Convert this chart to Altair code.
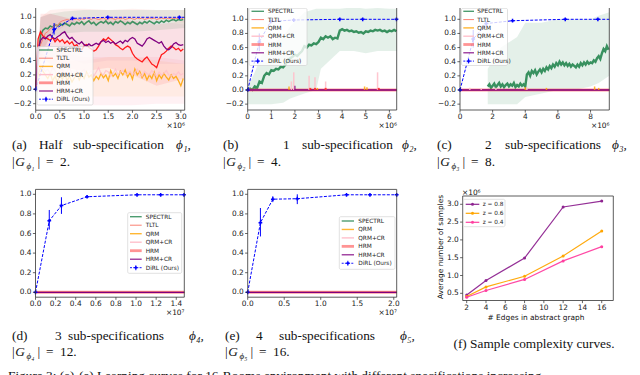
import altair as alt
import pandas as pd

W, H = 624, 367
def px(v): return v - 8
def py(v): return v - 8

FONT = "DejaVu Sans"
SERIF = "Liberation Serif"
TFS = 7.4
LFS = 5.8
CFS = 13.3

C_SPEC = "#2e8b57"; C_TLTL = "#fa8072"; C_QRM = "#ffa500"; C_QRMCR = "#ffc0cb"
C_HRM = "#ff1a1a"; C_HRMCR = "#800080"; C_DIRL = "#0000ff"

# ---------------- data ----------------
# (a) sampled every 0.05 (x1e6)
A_STEP = 0.05
A_SPECTRL = [0, 0.45, 0.75, 0.82, 0.85, 0.84, 0.88, 0.86, 0.9, 0.88,
             0.91, 0.89, 0.92, 0.9, 0.88, 0.92, 0.9, 0.93, 0.91, 0.94,
             0.9, 0.93, 0.95, 0.91, 0.93, 0.89, 0.92, 0.94, 0.92, 0.95,
             0.91, 0.93, 0.9, 0.94, 0.92, 0.95, 0.93, 0.9, 0.93, 0.91,
             0.94, 0.92, 0.9, 0.93, 0.91, 0.94, 0.92, 0.95, 0.93, 0.91,
             0.94, 0.92, 0.95, 0.93, 0.96, 0.94, 0.96, 0.97, 0.95, 0.97,
             0.96, 0.97]
A_TLTL = [0, 0.45, 0.62, 0.7, 0.78, 0.8, 0.84, 0.86, 0.9, 0.88,
          0.93, 0.95, 0.96, 0.97, 0.96, 0.98, 0.97, 0.98, 0.96, 0.98,
          0.97, 0.99, 0.98, 0.97, 0.99, 0.98, 0.97, 0.98, 0.99, 0.97,
          0.98, 0.99, 0.98, 0.97, 0.99, 0.98, 0.99, 0.97, 0.98, 0.99,
          0.98, 0.97, 0.99, 0.98, 0.99, 0.97, 0.98, 0.99, 0.98, 0.99,
          0.97, 0.98, 0.99, 0.98, 0.99, 0.98, 0.99, 0.98, 0.99, 0.98,
          0.99, 0.98]
A_QRM = [0, 0.2, 0.3, 0.25, 0.2, 0.15, 0.22, 0.12, 0.18, 0.1,
         0.2, 0.14, 0.22, 0.12, 0.18, 0.1, 0.16, 0.22, 0.13, 0.2,
         0.15, 0.24, 0.17, 0.2, 0.12, 0.18, 0.14, 0.22, 0.16, 0.2,
         0.12, 0.26, 0.18, 0.22, 0.15, 0.25, 0.2, 0.27, 0.17, 0.23,
         0.14, 0.28, 0.2, 0.25, 0.16, 0.22, 0.13, 0.2, 0.15, 0.24,
         0.12, 0.2, 0.15, 0.22, 0.17, 0.13, 0.2, 0.15, 0.18, 0.12,
         0.05, 0.15]
A_QRMCR = [0, 0.3, 0.35, 0.3, 0.25, 0.28, 0.22, 0.3, 0.26, 0.2,
           0.24, 0.28, 0.2, 0.25, 0.3, 0.22, 0.18, 0.26, 0.2, 0.24,
           0.28, 0.2, 0.22, 0.26, 0.18, 0.24, 0.3, 0.22, 0.2, 0.26,
           0.24, 0.18, 0.22, 0.28, 0.2, 0.24, 0.26, 0.2, 0.22, 0.25,
           0.2, 0.24, 0.28, 0.22, 0.18, 0.25, 0.22, 0.2, 0.26, 0.22,
           0.18, 0.24, 0.2, 0.22, 0.26, 0.2, 0.18, 0.22, 0.2, 0.24,
           0.2, 0.22]
A_HRM = [0, 0.7, 0.8, 0.74, 0.72, 0.7, 0.68, 0.72, 0.66, 0.7,
         0.66, 0.69, 0.64, 0.67, 0.63, 0.66, 0.6, 0.62, 0.56, 0.55,
         0.6, 0.62, 0.58, 0.56, 0.53, 0.55, 0.6, 0.66, 0.7, 0.68,
         0.72, 0.69, 0.66, 0.62, 0.6, 0.57, 0.55, 0.58, 0.6, 0.58,
         0.5, 0.45, 0.42, 0.4, 0.38, 0.42, 0.45, 0.4, 0.35, 0.33,
         0.3, 0.4, 0.48, 0.5, 0.53, 0.57, 0.6, 0.58, 0.55, 0.57,
         0.53, 0.56]
A_HRMCR = [0, 0.55, 0.68, 0.72, 0.7, 0.74, 0.76, 0.72, 0.7, 0.73,
           0.75, 0.78, 0.8, 0.74, 0.7, 0.72, 0.68, 0.65, 0.63, 0.66,
           0.62, 0.6, 0.63, 0.6, 0.62, 0.64, 0.62, 0.66, 0.68, 0.65,
           0.67, 0.64, 0.66, 0.63, 0.65, 0.67, 0.64, 0.68, 0.66, 0.7,
           0.72, 0.7, 0.64, 0.62, 0.6, 0.64, 0.7, 0.72, 0.7, 0.68,
           0.66, 0.64, 0.66, 0.6, 0.56, 0.55, 0.58, 0.63, 0.65, 0.62,
           0.61, 0.62]
A_BAND_X = [0, 0.1, 0.3, 0.6, 1.0, 1.5, 2.0, 2.5, 3.08]
A_SPEC_LO = [0, 0.5, 0.72, 0.78, 0.8, 0.8, 0.8, 0.82, 0.85]
A_SPEC_HI = [0, 1.0, 1.05, 1.08, 1.1, 1.1, 1.1, 1.1, 1.1]
A_TLTL_LO = [0, 0.4, 0.75, 0.88, 0.92, 0.92, 0.93, 0.93, 0.93]
A_TLTL_HI = [0, 1.0, 1.1, 1.12, 1.12, 1.1, 1.12, 1.1, 1.1]
A_QRM_LO = [0, -0.05, -0.05, -0.1, -0.1, -0.1, -0.1, -0.1, -0.1]
A_QRM_HI = [0, 0.5, 0.45, 0.4, 0.4, 0.45, 0.45, 0.4, 0.35]
A_QRMCR_LO = [0, -0.1, -0.2, -0.2, -0.22, -0.22, -0.22, -0.2, -0.2]
A_QRMCR_HI = [0, 0.8, 0.6, 0.5, 0.45, 0.45, 0.45, 0.45, 0.4]
A_HRM_LO = [0, 0.45, 0.35, 0.3, 0.25, 0.3, 0.2, 0.05, 0.15]
A_HRM_HI = [0, 1.05, 1.05, 1.0, 0.95, 1.0, 0.95, 0.9, 0.95]
A_HRMCR_LO = [0, 0.4, 0.45, 0.45, 0.35, 0.4, 0.4, 0.35, 0.35]
A_HRMCR_HI = [0, 1.0, 1.05, 1.0, 0.9, 0.95, 0.95, 0.95, 0.9]
A_DIRL_X = [0, 0.38, 0.76, 1.49, 2.97]
A_DIRL_Y = [0, 0.83, 0.985, 1.0, 1.0]
A_DIRL_LO = [0, 0.76, 0.975, 0.995, 0.995]
A_DIRL_HI = [0, 0.92, 0.995, 1.005, 1.005]
A_DIRL_END = [3.08, 1.0]

# (b) sampled every 0.1 (x1e6)
B_STEP = 0.1
B_SPECTRL = [0.0, 0.02, 0.0, 0.05, 0.03, 0.12, 0.1, 0.2, 0.24, 0.22,
             0.28, 0.27, 0.3, 0.29, 0.33, 0.32, 0.36, 0.42, 0.45, 0.47,
             0.5, 0.48, 0.52, 0.55, 0.62, 0.6, 0.64, 0.63, 0.66, 0.65,
             0.68, 0.74, 0.72, 0.76, 0.74, 0.76, 0.72, 0.74, 0.73, 0.84,
             0.86, 0.84, 0.85, 0.83, 0.84, 0.82, 0.83, 0.81, 0.82, 0.8,
             0.83, 0.82, 0.84, 0.83, 0.85, 0.84, 0.85, 0.83, 0.84, 0.82,
             0.84, 0.83, 0.85, 0.83]
B_BAND_X = [0, 0.3, 0.6, 1.0, 1.5, 1.8, 2.4, 2.9, 3.1, 3.9, 4.5, 5.0, 5.5, 6.0, 6.31]
B_SPEC_LO = [-0.2, -0.2, -0.2, -0.2, -0.18, -0.12, -0.05, 0.0, 0.3, 0.55, 0.55, 0.52, 0.55, 0.55, 0.55]
B_SPEC_HI = [0.05, 0.25, 0.5, 0.65, 0.75, 0.9, 1.1, 1.15, 1.15, 1.15, 1.17, 1.15, 1.16, 1.15, 1.15]
B_QRM_SPK_X = [1.75, 2.95, 4.95, 5.05]
B_QRM_SPK_H = [0.05, 0.03, 0.05, 0.04]
B_QRMCR_SPK_X = [1.85, 1.95, 2.6, 2.85, 3.3, 5.5]
B_QRMCR_SPK_H = [0.12, 0.25, 0.2, 0.18, 0.12, 0.25]
B_HRM_SPK_X = [2.65, 2.85, 3.3, 5.55]
B_HRM_SPK_H = [0.03, 0.03, 0.03, 0.03]
B_HRMCR_SPK_X = [2.0]
B_HRMCR_SPK_H = [0.06]
B_DIRL_X = [0, 0.49, 0.975, 1.95, 3.9, 4.87, 6.3]
B_DIRL_Y = [0, 0.68, 0.97, 0.99, 1.0, 1.0, 1.0]
B_DIRL_LO = [0, 0.55, 0.94, 0.98, 0.995, 0.995, 0.995]
B_DIRL_HI = [0, 0.8, 0.99, 1.0, 1.005, 1.005, 1.005]

# (c) sampled every 0.1 from 1.7 (x1e6)
C_START = 1.7
C_STEP = 0.1
C_SPECTRL = [0.05, 0.08, 0.03, 0.06, 0.09, 0.04, 0.07, 0.1, 0.05, 0.08,
             0.04, 0.07, 0.09, 0.05, 0.08, 0.06, 0.1, 0.04, 0.07, 0.05,
             0.09, 0.06, 0.08, 0.05,
             0.22, 0.25, 0.2, 0.27, 0.24, 0.28, 0.22, 0.26, 0.29, 0.25,
             0.3, 0.27, 0.32, 0.29, 0.34, 0.31, 0.36, 0.33, 0.38, 0.35,
             0.4, 0.36, 0.39, 0.35, 0.38, 0.34, 0.37, 0.33, 0.36, 0.34,
             0.32, 0.36, 0.33, 0.38, 0.35, 0.39, 0.36, 0.4, 0.37, 0.39,
             0.38, 0.42, 0.4, 0.45, 0.48, 0.44, 0.52, 0.58, 0.55, 0.62, 0.57]
C_BAND_X = [1.7, 2.5, 3.5, 4.0, 5.0, 6.0, 7.0, 8.0, 8.5, 9.15]
C_SPEC_LO = [-0.2, -0.2, -0.2, -0.1, -0.05, 0.0, 0.0, 0.05, 0.1, 0.2]
C_SPEC_HI = [0.3, 0.6, 0.75, 0.95, 0.95, 1.0, 1.0, 1.0, 1.05, 1.1]
C_QRM_SPK_X = [4.0, 5.3, 8.25, 8.5]
C_QRM_SPK_H = [0.04, 0.03, 0.05, 0.03]
C_QRMCR_SPK_X = [0.6, 1.3, 2.2, 4.1]
C_QRMCR_SPK_H = [0.03, 0.02, 0.03, 0.04]
C_DIRL_X = [0, 0.81, 1.61, 3.22, 6.45, 8.45]
C_DIRL_Y = [0, 0.72, 0.94, 0.98, 1.0, 1.0]
C_DIRL_LO = [0, 0.6, 0.91, 0.97, 0.995, 0.995]
C_DIRL_HI = [0, 0.85, 0.97, 0.99, 1.005, 1.005]
C_DIRL_END = [9.15, 1.0]

# (d) x1e7
D_DIRL_X = [0, 0.137, 0.258, 0.513, 1.01, 1.245, 1.477]
D_DIRL_Y = [0, 0.73, 0.885, 0.975, 0.995, 0.995, 0.995]
D_DIRL_LO = [0, 0.64, 0.8, 0.965, 0.99, 0.99, 0.99]
D_DIRL_HI = [0, 0.84, 0.97, 0.99, 1.0, 1.0, 1.0]

# (e) x1e7
E_DIRL_X = [0, 0.174, 0.344, 0.679, 1.353, 1.674, 2.04]
E_DIRL_Y = [0, 0.71, 0.95, 0.955, 0.995, 0.995, 0.995]
E_DIRL_LO = [0, 0.57, 0.92, 0.9, 0.99, 0.99, 0.99]
E_DIRL_HI = [0, 0.86, 0.98, 1.0, 1.0, 1.0, 1.0]

# (f)
F_EDGES = [2, 4, 8, 12, 16]
F_Z08 = [0.45, 0.86, 1.49, 2.925, 3.09]
F_Z06 = [0.41, 0.68, 0.98, 1.55, 2.25]
F_Z04 = [0.39, 0.58, 0.89, 1.41, 1.81]
F_NAMES = ["z = 0.8", "z = 0.6", "z = 0.4"]
F_COLORS = ["#8e2490", "#ffa500", "#ff3fa0"]

# tick values
TOP_Y_TICKS = [-0.2, 0, 0.2, 0.4, 0.6, 0.8, 1.0, 1.2]
BOT_Y_TICKS = [0, 0.2, 0.4, 0.6, 0.8, 1.0]
A_X_TICKS = [0, 0.5, 1.0, 1.5, 2.0, 2.5, 3.0]
B_X_TICKS = [0, 1, 2, 3, 4, 5, 6]
C_X_TICKS = [0, 2, 4, 6, 8]
D_X_TICKS = [0, 0.2, 0.4, 0.6, 0.8, 1.0, 1.2, 1.4]
E_X_TICKS = [0, 0.5, 1.0, 1.5, 2.0]
F_X_TICKS = [2, 4, 6, 8, 10, 12, 14, 16]
F_Y_TICKS = [0.5, 1.0, 1.5, 2.0, 2.5, 3.0]

LEG_NAMES = ["SPECTRL", "TLTL", "QRM", "QRM+CR", "HRM", "HRM+CR", "DiRL (Ours)"]
LEG_COLORS = [C_SPEC, C_TLTL, C_QRM, C_QRMCR, "#ff4d4d", C_HRMCR, C_DIRL]
LEG_WIDTHS = [1.4, 1.0, 1.4, 1.4, 2.8, 1.2, 1.0]
LEG_OPAC = [0.85, 1.0, 0.8, 1.0, 0.6, 0.9, 1.0]


# ---------------- helpers ----------------
def grid(start, step, n):
    return [round(start + step * i, 4) for i in range(n)]


def fmt(v, d):
    s = f"{v:.{d}f}"
    return s.replace("-", "\u2212")


def scales(xdom, xr, ydom, yr):
    xs = alt.Scale(domain=xdom, range=[px(xr[0]), px(xr[1])], nice=False, zero=False)
    ys = alt.Scale(domain=ydom, range=[py(yr[0]), py(yr[1])], nice=False, zero=False)
    return xs, ys


def frame(xs, ys, xdom, ydom):
    df = pd.DataFrame({"x0": [xdom[0]], "x1": [xdom[1]], "y0": [ydom[0]], "y1": [ydom[1]]})
    return alt.Chart(df).mark_rect(fill="white", fillOpacity=0, stroke="#333",
                                   strokeWidth=0.8).encode(
        x=alt.X("x0:Q", scale=xs, axis=None), x2="x1:Q",
        y=alt.Y("y0:Q", scale=ys, axis=None), y2="y1:Q")


def ticks(xs, ys, xr, yr, xvals, xd, yvals, yd):
    bottom, left = yr[0], xr[0]
    xdf = pd.DataFrame({"v": xvals, "t": [fmt(v, xd) for v in xvals]})
    ydf = pd.DataFrame({"v": yvals, "t": [fmt(v, yd) for v in yvals]})
    X = alt.X("v:Q", scale=xs, axis=None)
    Y = alt.Y("v:Q", scale=ys, axis=None)
    return [
        alt.Chart(xdf).mark_rule(color="#222", strokeWidth=0.7).encode(
            x=X, y=alt.value(py(bottom)), y2=alt.value(py(bottom) + 2.6)),
        alt.Chart(xdf).mark_text(baseline="top", align="center", font=FONT, fontSize=TFS,
                                 color="#222").encode(
            x=X, y=alt.value(py(bottom) + 3.2), text="t:N"),
        alt.Chart(ydf).mark_rule(color="#222", strokeWidth=0.7).encode(
            y=Y, x=alt.value(px(left) - 2.6), x2=alt.value(px(left))),
        alt.Chart(ydf).mark_text(baseline="middle", align="right", font=FONT, fontSize=TFS,
                                 color="#222").encode(
            y=Y, x=alt.value(px(left) - 4.0), text="t:N"),
    ]


def line(xs, ys, xv, yv, color, width, op=1.0, dash=None):
    df = pd.DataFrame({"x": xv, "y": yv})
    kw = dict(color=color, strokeWidth=width, opacity=op)
    if dash:
        kw["strokeDash"] = dash
    return alt.Chart(df).mark_line(**kw).encode(
        x=alt.X("x:Q", scale=xs, axis=None), y=alt.Y("y:Q", scale=ys, axis=None))


def band(xs, ys, xv, lo, hi, color, op):
    df = pd.DataFrame({"x": xv, "lo": lo, "hi": hi})
    return alt.Chart(df).mark_area(color=color, opacity=op).encode(
        x=alt.X("x:Q", scale=xs, axis=None), y=alt.Y("lo:Q", scale=ys, axis=None), y2="hi:Q")


def spikes(xs, ys, xv, hv, color, width=1.2, op=1.0):
    df = pd.DataFrame({"x": xv, "lo": [0.0] * len(xv), "hi": hv})
    return alt.Chart(df).mark_rule(color=color, strokeWidth=width, opacity=op).encode(
        x=alt.X("x:Q", scale=xs, axis=None), y=alt.Y("lo:Q", scale=ys, axis=None), y2="hi:Q")


def dirl(xs, ys, xv, yv, lo, hi, end=None):
    lx = list(xv) + ([end[0]] if end else [])
    ly = list(yv) + ([end[1]] if end else [])
    ln = line(xs, ys, lx, ly, C_DIRL, 1.0, 1.0, dash=[3, 1.5])
    df = pd.DataFrame({"x": xv, "y": yv, "lo": lo, "hi": hi})
    err = alt.Chart(df).mark_rule(color=C_DIRL, strokeWidth=1.0).encode(
        x=alt.X("x:Q", scale=xs, axis=None), y=alt.Y("lo:Q", scale=ys, axis=None), y2="hi:Q")
    pts = alt.Chart(df).mark_point(shape="cross", filled=True, color=C_DIRL, size=14,
                                   opacity=1).encode(
        x=alt.X("x:Q", scale=xs, axis=None), y=alt.Y("y:Q", scale=ys, axis=None))
    return [ln, err, pts]


def flat_lines(xs, ys, xmax):
    fx = [0, xmax]
    fy = [0, 0]
    return [line(xs, ys, fx, fy, C_TLTL, 1.0),
            line(xs, ys, fx, fy, C_QRM, 1.2),
            line(xs, ys, fx, fy, C_QRMCR, 1.2),
            line(xs, ys, fx, fy, "#ff4d4d", 3.0, 0.55),
            line(xs, ys, fx, fy, C_HRMCR, 1.3)]


def txt(t, x, y, size=CFS, font=SERIF, align="left", italic=False, angle=0, color="#111", baseline="middle"):
    df = pd.DataFrame({"t": [t]})
    kw = dict(align=align, baseline=baseline, font=font, fontSize=size, color=color)
    if italic:
        kw["fontStyle"] = "italic"
    if angle:
        kw["angle"] = angle
    return alt.Chart(df).mark_text(**kw).encode(
        x=alt.value(px(x)), y=alt.value(py(y)), text="t:N")


def legend(names, colors, widths, opac, y0, dy, s0, s1, tx, box, dirl_last=True, marker=False):
    n = len(names)
    df = pd.DataFrame({"name": names, "c": colors, "w": widths, "o": opac, "i": list(range(n))})
    ysc = alt.Scale(domain=[0, n - 1], range=[py(y0), py(y0 + dy * (n - 1))], nice=False, zero=False)
    Y = alt.Y("i:Q", scale=ysc, axis=None)
    bx = alt.Chart(pd.DataFrame({"k": [0]})).mark_rect(
        fill="white", fillOpacity=0.8, stroke="#cccccc", strokeWidth=0.6, cornerRadius=1.5).encode(
        x=alt.value(px(box[0])), x2=alt.value(px(box[1])),
        y=alt.value(py(box[2])), y2=alt.value(py(box[3])))
    solid = df.iloc[:-1] if dirl_last else df
    lay = [bx,
           alt.Chart(solid).mark_rule().encode(
               x=alt.value(px(s0)), x2=alt.value(px(s1)), y=Y,
               color=alt.Color("c:N", scale=None),
               strokeWidth=alt.StrokeWidth("w:Q", scale=None),
               opacity=alt.Opacity("o:Q", scale=None))]
    if marker:
        lay.append(alt.Chart(df).mark_point(filled=True, shape="circle", size=9, opacity=1).encode(
            x=alt.value(px((s0 + s1) / 2)), y=Y, color=alt.Color("c:N", scale=None)))
    if dirl_last:
        last = df.iloc[-1:]
        lay.append(alt.Chart(last).mark_rule(color=C_DIRL, strokeDash=[2, 1.2], strokeWidth=0.9).encode(
            x=alt.value(px(s0)), x2=alt.value(px(s1)), y=Y))
        lay.append(alt.Chart(last).mark_tick(orient="vertical", size=5, thickness=0.9, color=C_DIRL,
                                             opacity=1).encode(
            x=alt.value(px((s0 + s1) / 2)), y=Y))
        lay.append(alt.Chart(last).mark_point(shape="cross", filled=True, size=10, color=C_DIRL,
                                              opacity=1).encode(
            x=alt.value(px((s0 + s1) / 2)), y=Y))
    lay.append(alt.Chart(df).mark_text(align="left", baseline="middle", font=FONT, fontSize=LFS,
                                       color="#222").encode(x=alt.value(px(tx)), y=Y, text="name:N"))
    return alt.layer(*lay)


layers = []

# ---------------- panel (a) ----------------
AXD, AXR, AYD, AYR = [0, 3.08], (35.7, 184.7), [-0.29, 1.24], (110.2, 0)
xs, ys = scales(AXD, AXR, AYD, AYR)
pa = [band(xs, ys, A_BAND_X, A_SPEC_LO, A_SPEC_HI, C_SPEC, 0.12),
      band(xs, ys, A_BAND_X, A_TLTL_LO, A_TLTL_HI, C_TLTL, 0.12),
      band(xs, ys, A_BAND_X, A_QRM_LO, A_QRM_HI, C_QRM, 0.08),
      band(xs, ys, A_BAND_X, A_QRMCR_LO, A_QRMCR_HI, C_QRMCR, 0.22),
      band(xs, ys, A_BAND_X, A_HRM_LO, A_HRM_HI, C_HRM, 0.09),
      band(xs, ys, A_BAND_X, A_HRMCR_LO, A_HRMCR_HI, C_HRMCR, 0.04),
      line(xs, ys, grid(0, A_STEP, len(A_SPECTRL)), A_SPECTRL, C_SPEC, 1.6, 0.9),
      line(xs, ys, grid(0, A_STEP, len(A_TLTL)), A_TLTL, C_TLTL, 1.0),
      line(xs, ys, grid(0, A_STEP, len(A_QRM)), A_QRM, C_QRM, 1.3, 0.85),
      line(xs, ys, grid(0, A_STEP, len(A_QRMCR)), A_QRMCR, C_QRMCR, 1.2, 0.8),
      line(xs, ys, grid(0, A_STEP, len(A_HRM)), A_HRM, C_HRM, 1.3),
      line(xs, ys, grid(0, A_STEP, len(A_HRMCR)), A_HRMCR, C_HRMCR, 1.3)]
pa += dirl(xs, ys, A_DIRL_X, A_DIRL_Y, A_DIRL_LO, A_DIRL_HI, A_DIRL_END)
pa += ticks(xs, ys, AXR, AYR, A_X_TICKS, 1, TOP_Y_TICKS, 1)
pa.append(frame(xs, ys, AXD, AYD))
layers.append(alt.layer(*pa))
layers.append(legend(LEG_NAMES, LEG_COLORS, LEG_WIDTHS, LEG_OPAC, 50, 8.2, 39, 53, 56.5,
                     (37, 93, 46.5, 105)))

# ---------------- panel (b) ----------------
BXD, BXR, BYD, BYR = [0, 6.31], (247.7, 396.7), [-0.283, 1.273], (110, 0)
xs, ys = scales(BXD, BXR, BYD, BYR)
pb = [band(xs, ys, B_BAND_X, B_SPEC_LO, B_SPEC_HI, C_SPEC, 0.13),
      line(xs, ys, grid(0, B_STEP, len(B_SPECTRL)), B_SPECTRL, C_SPEC, 2.4, 0.95)]
pb += flat_lines(xs, ys, BXD[1])
pb += [spikes(xs, ys, B_QRM_SPK_X, B_QRM_SPK_H, C_QRM, 1.5, 0.8),
       spikes(xs, ys, B_QRMCR_SPK_X, B_QRMCR_SPK_H, C_QRMCR, 1.5, 0.9),
       spikes(xs, ys, B_HRM_SPK_X, B_HRM_SPK_H, C_HRM, 2.0, 0.8),
       spikes(xs, ys, B_HRMCR_SPK_X, B_HRMCR_SPK_H, C_HRMCR, 1.2, 0.9)]
pb += dirl(xs, ys, B_DIRL_X, B_DIRL_Y, B_DIRL_LO, B_DIRL_HI)
pb += ticks(xs, ys, BXR, BYR, B_X_TICKS, 0, TOP_Y_TICKS, 1)
pb.append(frame(xs, ys, BXD, BYD))
layers.append(alt.layer(*pb))
layers.append(legend(LEG_NAMES, LEG_COLORS, LEG_WIDTHS, LEG_OPAC, 11.3, 8.3, 251.5, 264, 268,
                     (249, 307, 8.3, 65.5)))

# ---------------- panel (c) ----------------
CXD, CXR, CYD, CYR = [0, 9.15], (460, 609.3), [-0.283, 1.273], (110, 0)
xs, ys = scales(CXD, CXR, CYD, CYR)
pc = [band(xs, ys, C_BAND_X, C_SPEC_LO, C_SPEC_HI, C_SPEC, 0.13),
      line(xs, ys, grid(C_START, C_STEP, len(C_SPECTRL)), C_SPECTRL, C_SPEC, 2.4, 0.95)]
pc += flat_lines(xs, ys, CXD[1])
pc += [spikes(xs, ys, C_QRM_SPK_X, C_QRM_SPK_H, C_QRM, 1.5, 0.8),
       spikes(xs, ys, C_QRMCR_SPK_X, C_QRMCR_SPK_H, C_QRMCR, 1.5, 0.9)]
pc += dirl(xs, ys, C_DIRL_X, C_DIRL_Y, C_DIRL_LO, C_DIRL_HI, C_DIRL_END)
pc += ticks(xs, ys, CXR, CYR, C_X_TICKS, 0, TOP_Y_TICKS, 1)
pc.append(frame(xs, ys, CXD, CYD))
layers.append(alt.layer(*pc))
layers.append(legend(LEG_NAMES, LEG_COLORS, LEG_WIDTHS, LEG_OPAC, 11.3, 8.3, 463.3, 474, 477.3,
                     (461.5, 507.5, 8.3, 65.5)))

# ---------------- panel (d) ----------------
DXD, DXR, DYD, DYR = [0, 1.48], (35.5, 184.3), [-0.05, 1.05], (297.2, 189.4)
xs, ys = scales(DXD, DXR, DYD, DYR)
pd_ = flat_lines(xs, ys, DXD[1])
pd_ += dirl(xs, ys, D_DIRL_X, D_DIRL_Y, D_DIRL_LO, D_DIRL_HI)
pd_ += ticks(xs, ys, DXR, DYR, D_X_TICKS, 1, BOT_Y_TICKS, 1)
pd_.append(frame(xs, ys, DXD, DYD))
layers.append(alt.layer(*pd_))
layers.append(legend(LEG_NAMES, LEG_COLORS, LEG_WIDTHS, LEG_OPAC, 216.7, 8.5, 130, 141.7, 145.7,
                     (127.7, 181.7, 212.7, 273.3)))

# ---------------- panel (e) ----------------
EXD, EXR, EYD, EYR = [0, 2.04], (247.7, 396.7), [-0.05, 1.05], (297.2, 189.4)
xs, ys = scales(EXD, EXR, EYD, EYR)
pe = flat_lines(xs, ys, EXD[1])
pe += dirl(xs, ys, E_DIRL_X, E_DIRL_Y, E_DIRL_LO, E_DIRL_HI)
pe += ticks(xs, ys, EXR, EYR, E_X_TICKS, 1, BOT_Y_TICKS, 1)
pe.append(frame(xs, ys, EXD, EYD))
layers.append(alt.layer(*pe))
E_IDX = [i for i, n in enumerate(LEG_NAMES) if n != "TLTL"]
layers.append(legend([LEG_NAMES[i] for i in E_IDX], [LEG_COLORS[i] for i in E_IDX],
                     [LEG_WIDTHS[i] for i in E_IDX], [LEG_OPAC[i] for i in E_IDX],
                     221, 8.45, 341.7, 354, 358.3, (339.3, 395, 216.7, 269.3)))

# ---------------- panel (f) ----------------
FXD, FXR, FYD, FYR = [1.585, 17.2], (462.7, 613.3), [0.298, 3.233], (300.5, 196)
xs, ys = scales(FXD, FXR, FYD, FYR)
pf = []
for vals, col in zip([F_Z08, F_Z06, F_Z04], F_COLORS):
    df = pd.DataFrame({"x": F_EDGES, "y": vals})
    pf.append(alt.Chart(df).mark_line(color=col, strokeWidth=1.2, opacity=0.95).encode(
        x=alt.X("x:Q", scale=xs, axis=None), y=alt.Y("y:Q", scale=ys, axis=None)))
    pf.append(alt.Chart(df).mark_point(color=col, filled=True, shape="circle", size=9, opacity=1).encode(
        x=alt.X("x:Q", scale=xs, axis=None), y=alt.Y("y:Q", scale=ys, axis=None)))
pf += ticks(xs, ys, FXR, FYR, F_X_TICKS, 0, F_Y_TICKS, 1)
pf.append(frame(xs, ys, FXD, FYD))
layers.append(alt.layer(*pf))
layers.append(legend(F_NAMES, F_COLORS, [1.2, 1.2, 1.2], [1, 1, 1], 204.3, 9, 465.7, 479.3, 482.7,
                     (463.3, 505, 199.3, 226.7), dirl_last=False, marker=True))

# ---------------- text ----------------
T = []
T.append(txt("×10⁶", 185, 125.5, TFS, FONT, "right"))
T.append(txt("×10⁶", 397, 125.5, TFS, FONT, "right"))
T.append(txt("×10⁶", 609.5, 125.5, TFS, FONT, "right"))
T.append(txt("×10⁷", 184.5, 312.5, TFS, FONT, "right"))
T.append(txt("×10⁷", 397, 312.5, TFS, FONT, "right"))
T.append(txt("×10⁶", 462, 192.5, TFS, FONT, "left"))
T.append(txt("Average number of samples", 441.2, 247, TFS, FONT, "center", angle=270))
T.append(txt("# Edges in abstract graph", 536, 317.5, TFS, FONT, "center"))

CAP_LINE1 = [
    ("(a)", 12, 145, False), ("Half", 39, 145, False), ("sub-specification", 73, 145, False),
    ("ϕ₁,", 176, 145, True),
    ("(b)", 223, 145, False), ("1", 283, 145, False), ("sub-specification", 302, 145, False),
    ("ϕ₂,", 402, 145, True),
    ("(c)", 437, 145, False), ("2", 485, 145, False), ("sub-specifications", 505, 145, False),
    ("ϕ₃,", 612, 145, True),
    ("(d)", 12, 336, False), ("3", 55, 336, False), ("sub-specifications", 68, 336, False),
    ("ϕ₄,", 189, 336, True),
    ("(e)", 225, 336, False), ("4", 256, 336, False), ("sub-specifications", 279, 336, False),
    ("ϕ₅,", 400, 336, True),
]
for w, x, y, it in CAP_LINE1:
    T.append(txt(w, x, y, CFS, SERIF, "left", italic=it))

# second caption lines: |G_phi_k| = n.
CAP_LINE2 = [(12, 162, "ϕ₁", "2."), (223, 162, "ϕ₂", "4."), (437, 162, "ϕ₃", "8."),
             (12, 352, "ϕ₄", "12."), (225, 352, "ϕ₅", "16.")]
for x0, y0, sub, val in CAP_LINE2:
    T.append(txt("|", x0, y0, CFS, SERIF))
    T.append(txt("G", x0 + 3.2, y0, CFS, SERIF, italic=True))
    T.append(txt(sub, x0 + 14.5, y0 + 3.5, 9, SERIF, italic=True))
    T.append(txt("|", x0 + 25.5, y0, CFS, SERIF))
    T.append(txt("=", x0 + 34, y0, CFS, SERIF))
    T.append(txt(val, x0 + 48, y0, CFS, SERIF))

T.append(txt("(f) Sample complexity curves.", 534, 344, CFS, SERIF, "center"))
T.append(txt("Figure 3: (a)-(e) Learning curves for 16-Rooms environment with different specifications increasing",
             8, 376, CFS, SERIF, "left"))
layers += T

chart = alt.layer(*layers).resolve_scale(
    x="independent", y="independent"
).properties(
    width=W, height=H, autosize=alt.AutoSizeParams(type="none"), padding=0
).configure_view(strokeWidth=0)

chart.save("out.html", embed_options={"renderer": "svg", "actions": False})
